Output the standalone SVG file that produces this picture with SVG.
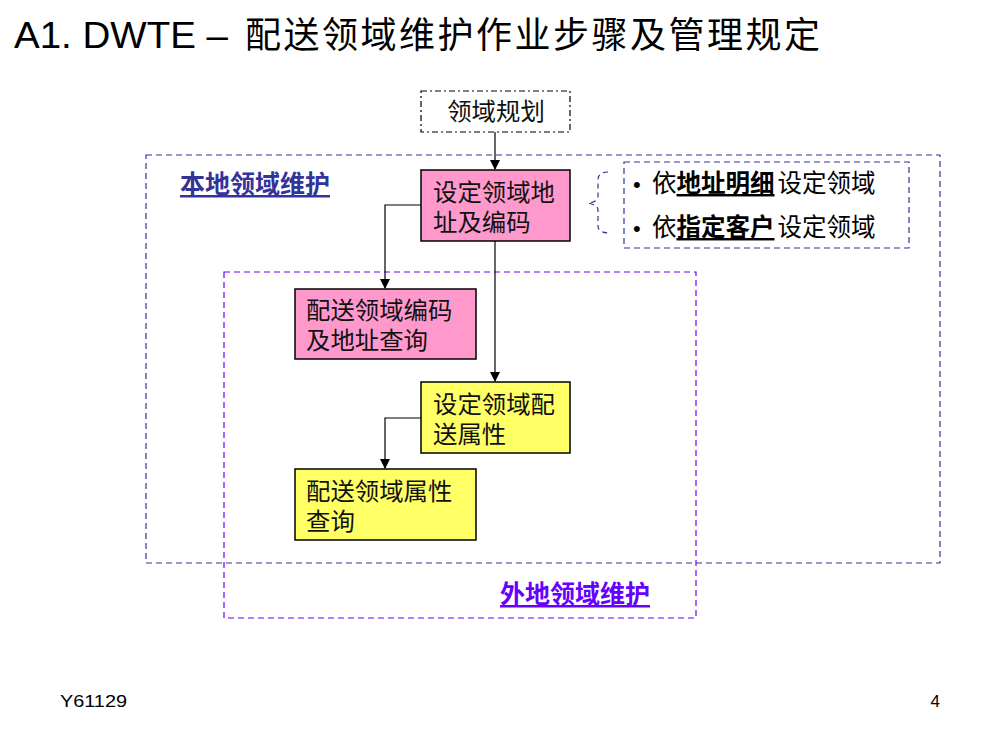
<svg xmlns="http://www.w3.org/2000/svg" width="1000" height="750" viewBox="0 0 1000 750">
<defs>
<style>
.cjk{font-family:"Liberation Serif","Noto Sans CJK SC",serif;}
.lat{font-family:"Liberation Sans",Arial,sans-serif;}
.box{stroke:#000;stroke-width:1.5;}
.pink{fill:#FF99CC;}
.yel{fill:#FFFF66;}
.nt{font-size:24.4px;fill:#111;}
.conn{fill:none;stroke:#000;stroke-width:1.2;}
</style>
<marker id="arr" markerWidth="10" markerHeight="10" refX="9" refY="5" orient="auto" markerUnits="userSpaceOnUse">
<path d="M0,0 L10,5 L0,10 z" fill="#000"/>
</marker>
</defs>
<rect width="1000" height="750" fill="#fff"/>
<g id="title">
<text x="14" y="48" class="lat" font-size="37" fill="#000" textLength="214" lengthAdjust="spacingAndGlyphs">A1. DWTE –</text>
<text x="245" y="48" class="cjk" font-size="36" letter-spacing="2.5" fill="#000">配送领域维护作业步骤及管理规定</text>
</g>
<g id="group-local">
<rect x="146" y="155" width="794" height="408" fill="none" stroke="#333399" stroke-width="1.2" stroke-dasharray="6,4"/>
<text x="180" y="193" class="cjk" font-size="25" font-weight="bold" fill="#333399" text-decoration="underline">本地领域维护</text>
</g>
<g id="group-remote">
<rect x="224" y="272" width="472" height="346" fill="none" stroke="#6600FF" stroke-width="1.2" stroke-dasharray="6,4"/>
<text x="500" y="603" class="cjk" font-size="25" font-weight="bold" fill="#6600FF" text-decoration="underline">外地领域维护</text>
</g>
<g id="connectors">
<path class="conn" d="M495,132 L495,169" marker-end="url(#arr)"/>
<path class="conn" d="M421,205 L385,205 L385,288" marker-end="url(#arr)"/>
<path class="conn" d="M495,241 L495,381" marker-end="url(#arr)"/>
<path class="conn" d="M421,418 L385,418 L385,468" marker-end="url(#arr)"/>
</g>
<g id="node-plan">
<rect x="421" y="91" width="149" height="41" fill="#fff" stroke="#000" stroke-width="1.2" stroke-dasharray="6,3,2,3"/>
<text x="496" y="120" class="cjk nt" text-anchor="middle">领域规划</text>
</g>
<g id="node-set-address">
<rect x="421" y="170" width="149" height="71" class="box pink"/>
<text class="cjk nt"><tspan x="433" y="201">设定领域地</tspan><tspan x="433" y="231">址及编码</tspan></text>
</g>
<g id="node-query-address">
<rect x="295" y="289" width="181" height="70" class="box pink"/>
<text class="cjk nt"><tspan x="306" y="319">配送领域编码</tspan><tspan x="306" y="349">及地址查询</tspan></text>
</g>
<g id="node-set-attr">
<rect x="421" y="382" width="149" height="71" class="box yel"/>
<text class="cjk nt"><tspan x="433" y="413">设定领域配</tspan><tspan x="433" y="443">送属性</tspan></text>
</g>
<g id="node-query-attr">
<rect x="295" y="469" width="181" height="71" class="box yel"/>
<text class="cjk nt"><tspan x="306" y="500">配送领域属性</tspan><tspan x="306" y="530">查询</tspan></text>
</g>
<g id="note">
<path d="M608,172 Q598,172 598,180 L598,196 Q598,202 588,203 Q598,205 598,210 L598,226 Q598,233 610,233" fill="none" stroke="#333399" stroke-width="1.2" stroke-dasharray="5,4"/>
<rect x="624" y="162" width="285" height="86" fill="none" stroke="#333399" stroke-width="1.2" stroke-dasharray="6,4"/>
<text class="cjk" font-size="24.5" fill="#000"><tspan x="633" y="192" class="lat" font-size="22">•</tspan><tspan x="652" y="192">依</tspan><tspan font-weight="bold" text-decoration="underline">地址明细</tspan><tspan dx="3">设定领域</tspan></text>
<text class="cjk" font-size="24.5" fill="#000"><tspan x="633" y="236" class="lat" font-size="22">•</tspan><tspan x="652" y="236">依</tspan><tspan font-weight="bold" text-decoration="underline">指定客户</tspan><tspan dx="3">设定领域</tspan></text>
</g>
<g id="footer">
<text x="60" y="707" class="lat" font-size="17" fill="#000" textLength="67" lengthAdjust="spacingAndGlyphs">Y61129</text>
<text x="940" y="707" class="lat" font-size="17" fill="#000" text-anchor="end">4</text>
</g>
</svg>
